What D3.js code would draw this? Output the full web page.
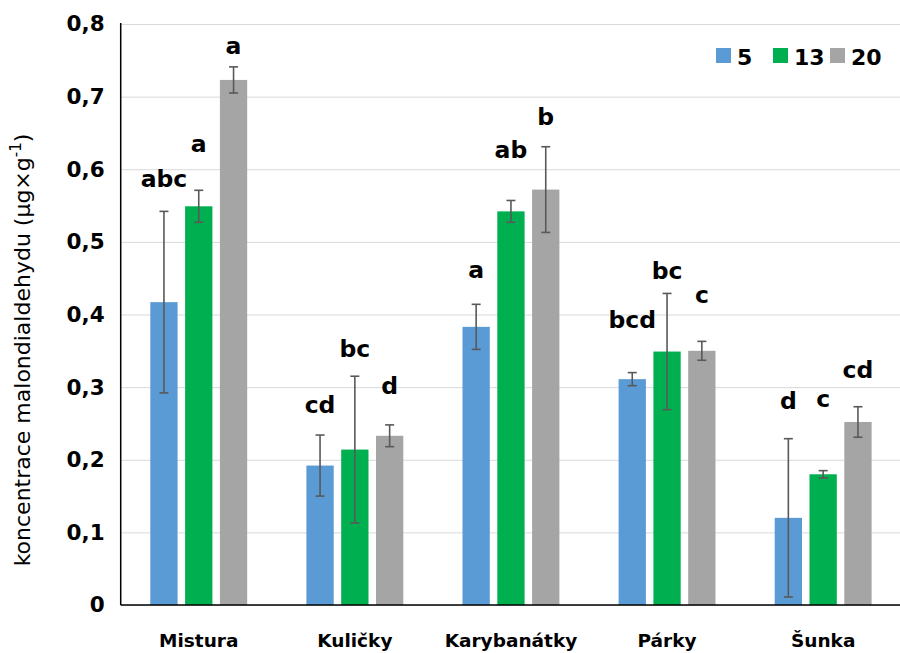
<!DOCTYPE html>
<html>
<head>
<meta charset="utf-8">
<script src="https://cdn.jsdelivr.net/npm/d3@7"></script>
<style>
  html, body { margin: 0; padding: 0; background: #fff; }
  svg { display: block; }
</style>
</head>
<body>
<svg id="chart" width="900" height="653"></svg>
<script>
// Categories and storage-time series
const categories = ["Mistura", "Kuličky", "Karybanátky", "Párky", "Šunka"];
const seriesNames = ["5", "13", "20"];

// Mean malondialdehyde concentration (µg×g⁻¹)
const values5  = [0.417, 0.192, 0.383, 0.311, 0.120];
const values13 = [0.549, 0.214, 0.542, 0.349, 0.180];
const values20 = [0.723, 0.233, 0.572, 0.350, 0.252];

// Standard deviations
const errors5  = [0.125, 0.042, 0.031, 0.009, 0.109];
const errors13 = [0.022, 0.101, 0.015, 0.080, 0.005];
const errors20 = [0.018, 0.015, 0.059, 0.013, 0.021];

// Significance letters and the value level where each sits
const letters5  = ["abc", "cd", "a", "bcd", "d"];
const letters13 = ["a", "bc", "ab", "bc", "c"];
const letters20 = ["a", "d", "b", "c", "cd"];
const letterLevel5  = [0.576, 0.264, 0.450, 0.381, 0.270];
const letterLevel13 = [0.624, 0.341, 0.615, 0.449, 0.273];
const letterLevel20 = [0.759, 0.291, 0.661, 0.416, 0.312];

const yTicks = [0, 0.1, 0.2, 0.3, 0.4, 0.5, 0.6, 0.7, 0.8];

const seriesColors = ["#5B9BD5", "#00B050", "#A5A5A5"];

const series = [
  { name: seriesNames[0], values: values5,  errors: errors5,  letters: letters5,  levels: letterLevel5 },
  { name: seriesNames[1], values: values13, errors: errors13, letters: letters13, levels: letterLevel13 },
  { name: seriesNames[2], values: values20, errors: errors20, letters: letters20, levels: letterLevel20 }
];

const svg = d3.select("#chart");
const plotLeft = 120.7, plotRight = 901.2, plotTop = 24, plotBottom = 605;
const font = "'DejaVu Sans', Verdana, sans-serif";

const x0 = d3.scaleBand().domain(categories).range([plotLeft, plotRight]).padding(0);
const x1 = d3.scaleBand().domain(seriesNames).range([-48.45, 48.45]).paddingInner(0.2155).paddingOuter(0);
const y = d3.scaleLinear().domain([0, 0.8]).range([plotBottom, plotTop]);

const barCenter = (c, s) => x0(c) + x0.bandwidth() / 2 + x1(s) + x1.bandwidth() / 2;

// Gridlines
const grid = svg.append("g")
  .attr("transform", `translate(${plotLeft},0)`)
  .call(d3.axisLeft(y).tickValues(yTicks).tickSize(-(plotRight - plotLeft)).tickFormat(""));
grid.select(".domain").remove();
grid.selectAll("line").attr("stroke", "#D9D9D9").attr("stroke-width", 1);

// Y tick labels
const yAxis = svg.append("g")
  .attr("transform", `translate(${plotLeft},0)`)
  .call(d3.axisLeft(y).tickValues(yTicks).tickSize(0).tickPadding(16)
    .tickFormat(d => d === 0 ? "0" : d3.format(".1f")(d).replace(".", ",")));
yAxis.select(".domain").remove();
yAxis.selectAll("text")
  .attr("font-family", font).attr("font-weight", "bold").attr("font-size", 21.5)
  .attr("fill", "#000");

// Bars
const groups = svg.append("g").selectAll("g")
  .data(series)
  .join("g")
  .attr("fill", (d, i) => seriesColors[i]);

groups.selectAll("rect")
  .data(s => categories.map((c, j) => ({ c, s: s.name, v: s.values[j] })))
  .join("rect")
  .attr("x", d => x0(d.c) + x0.bandwidth() / 2 + x1(d.s))
  .attr("width", x1.bandwidth())
  .attr("y", d => y(d.v))
  .attr("height", d => y(0) - y(d.v));

// Error bars
const errG = svg.append("g").attr("stroke", "#595959").attr("stroke-width", 1.6).attr("fill", "none");
series.forEach(s => {
  categories.forEach((c, j) => {
    const cx = barCenter(c, s.name);
    const hi = y(s.values[j] + s.errors[j]);
    const lo = y(Math.max(0, s.values[j] - s.errors[j]));
    errG.append("line").attr("x1", cx).attr("x2", cx).attr("y1", hi).attr("y2", lo);
    errG.append("line").attr("x1", cx - 4.5).attr("x2", cx + 4.5).attr("y1", hi).attr("y2", hi);
    errG.append("line").attr("x1", cx - 4.5).attr("x2", cx + 4.5).attr("y1", lo).attr("y2", lo);
  });
});

// Significance letters
series.forEach(s => {
  categories.forEach((c, j) => {
    svg.append("text")
      .attr("x", barCenter(c, s.name)).attr("y", y(s.levels[j]))
      .attr("text-anchor", "middle")
      .attr("font-family", font).attr("font-weight", "bold").attr("font-size", 23.5)
      .attr("fill", "#000")
      .text(s.letters[j]);
  });
});

// Axis lines
svg.append("line").attr("x1", plotLeft).attr("x2", plotLeft).attr("y1", plotTop - 1).attr("y2", plotBottom)
  .attr("stroke", "#000").attr("stroke-width", 1.5);
svg.append("line").attr("x1", plotLeft).attr("x2", 900).attr("y1", plotBottom).attr("y2", plotBottom)
  .attr("stroke", "#000").attr("stroke-width", 1.5);

// Category labels
const xAxis = svg.append("g")
  .attr("transform", `translate(0,${plotBottom})`)
  .call(d3.axisBottom(x0).tickSize(0).tickPadding(0));
xAxis.select(".domain").remove();
xAxis.selectAll("text")
  .attr("y", 42).attr("dy", 0)
  .attr("font-family", font).attr("font-weight", "bold").attr("font-size", 18.5)
  .attr("fill", "#000");

// Y axis title
const title = svg.append("text")
  .attr("transform", "translate(30,350) rotate(-90)")
  .attr("text-anchor", "middle")
  .attr("font-family", font).attr("font-size", 22).attr("fill", "#000");
title.append("tspan").text("koncentrace malondialdehydu (µg×g");
title.append("tspan").attr("dy", -9).attr("font-size", 15).text("-1");
title.append("tspan").attr("dy", 9).text(")");

// Legend
const legendX = [716, 773, 830];
const legend = svg.append("g");
series.forEach((s, i) => {
  legend.append("rect").attr("x", legendX[i]).attr("y", 48).attr("width", 15).attr("height", 15)
    .attr("fill", seriesColors[i]);
  legend.append("text").attr("x", legendX[i] + 21).attr("y", 64.5)
    .attr("font-family", font).attr("font-weight", "bold").attr("font-size", 22)
    .attr("fill", "#000").text(s.name);
});
</script>
</body>
</html>
